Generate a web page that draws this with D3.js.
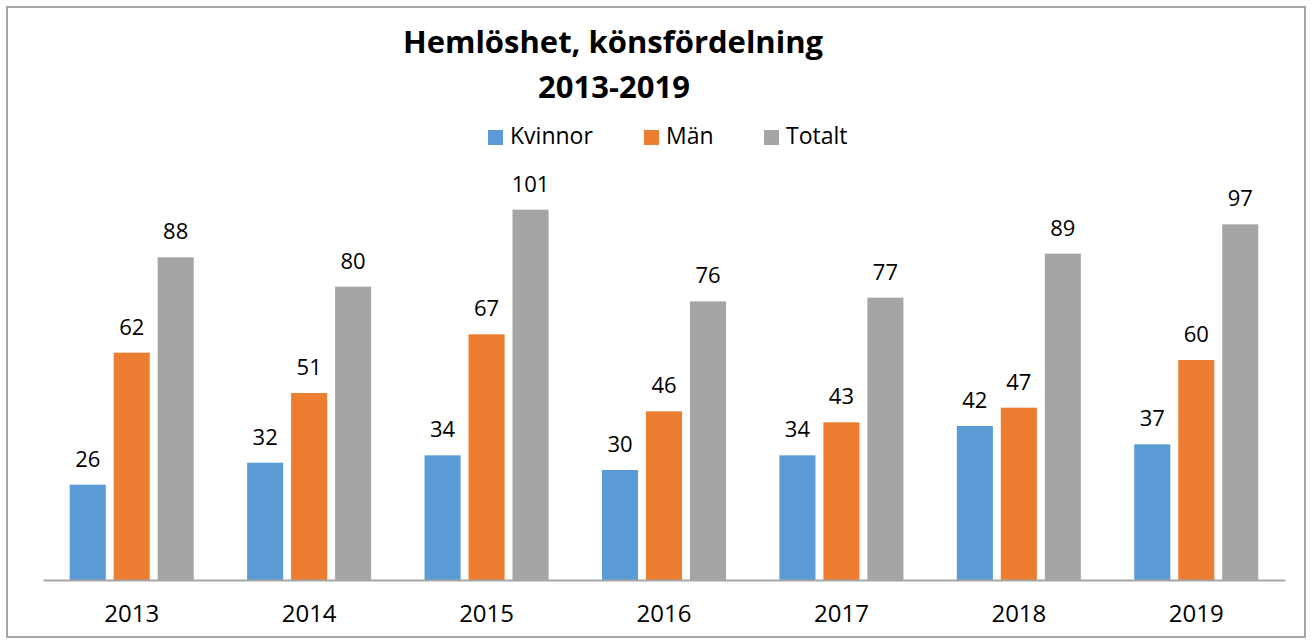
<!DOCTYPE html>
<html>
<head>
<meta charset="utf-8">
<script src="https://cdn.jsdelivr.net/npm/d3@7"></script>
<style>
  html, body { margin: 0; padding: 0; background: #fff; }
  svg { display: block; }
  text { font-family: "Open Sans", "Noto Sans", sans-serif; fill: #000; }
</style>
</head>
<body>
<svg id="chart" width="1312" height="643"></svg>
<script>
const years = ["2013", "2014", "2015", "2016", "2017", "2018", "2019"];
const seriesNames = ["Kvinnor", "Män", "Totalt"];
const kvinnor = [26, 32, 34, 30, 34, 42, 37];
const man = [62, 51, 67, 46, 43, 47, 60];
const totalt = [88, 80, 101, 76, 77, 89, 97];
const seriesColors = ["#5b9bd5", "#ed7d31", "#a5a5a5"];
const titleLines = ["Hemlöshet, könsfördelning", "2013-2019"];

const seriesValues = [kvinnor, man, totalt];
const data = years.map((y, i) => ({
  year: y,
  values: seriesNames.map((s, j) => ({ key: s, value: seriesValues[j][i], idx: j }))
}));

const svg = d3.select("#chart");

// outer border
svg.append("rect")
  .attr("x", 7).attr("y", 7).attr("width", 1298).attr("height", 630)
  .attr("fill", "#fff").attr("stroke", "#a6a6a6").attr("stroke-width", 2);

const x0 = d3.scaleBand().domain(years).range([43, 1285]).padding(0);
const groupPad = 26.7;
const x1 = d3.scaleBand().domain(seriesNames)
  .range([groupPad, x0.bandwidth() - groupPad]).paddingInner(0.18);
const y = d3.scaleLinear().domain([0, 120]).range([580, 140]);

// bars
const groups = svg.append("g").selectAll("g").data(data).join("g")
  .attr("transform", d => `translate(${x0(d.year)},0)`);

groups.selectAll("rect").data(d => d.values).join("rect")
  .attr("x", d => x1(d.key))
  .attr("y", d => y(d.value))
  .attr("width", x1.bandwidth())
  .attr("height", d => y(0) - y(d.value))
  .attr("fill", d => seriesColors[d.idx]);

groups.selectAll("text.lbl").data(d => d.values).join("text")
  .attr("class", "lbl")
  .attr("x", d => x1(d.key) + x1.bandwidth() / 2)
  .attr("y", d => y(d.value) - 18)
  .attr("text-anchor", "middle")
  .attr("font-size", "22px")
  .text(d => d.value);

// x axis
const xAxis = svg.append("g").attr("transform", `translate(0,${y(0)})`)
  .call(d3.axisBottom(x0).tickSize(0).tickPadding(0));
xAxis.select(".domain").attr("stroke", "#a6a6a6").attr("stroke-width", 2);
xAxis.selectAll(".tick text")
  .attr("dy", 0).attr("y", 42)
  .attr("font-size", "24px")
  .attr("font-family", "'Open Sans', 'Noto Sans', sans-serif")
  .attr("fill", "#000");

// title
svg.append("text").attr("x", 613).attr("y", 53).attr("text-anchor", "middle")
  .attr("font-size", "31px").attr("font-weight", "bold").text(titleLines[0]);
svg.append("text").attr("x", 614).attr("y", 98).attr("text-anchor", "middle")
  .attr("font-size", "31px").attr("font-weight", "bold").text(titleLines[1]);

// legend
const legendX = [488, 644, 764];
const legend = svg.append("g").selectAll("g").data(seriesNames).join("g")
  .attr("transform", (d, i) => `translate(${legendX[i]},130)`);
legend.append("rect").attr("width", 15).attr("height", 15)
  .attr("fill", (d, i) => seriesColors[i]);
legend.append("text").attr("x", 22).attr("y", 14)
  .attr("font-size", "23px").text(d => d);
</script>
</body>
</html>
